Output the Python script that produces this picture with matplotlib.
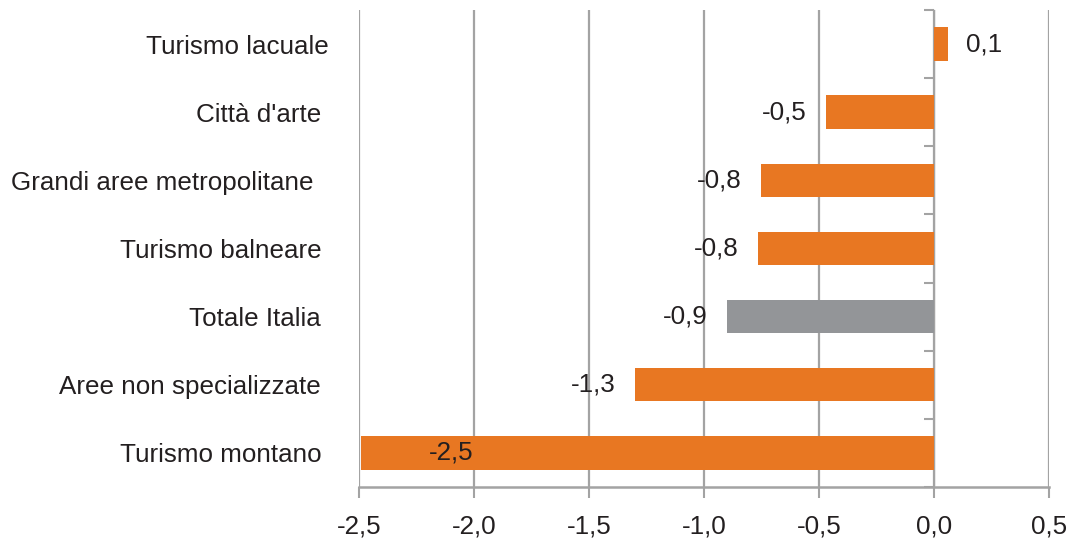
import numpy as np
import matplotlib.pyplot as plt

plt.rcParams['font.family'] = ['Liberation Sans', 'DejaVu Sans']

# categorie dal basso verso l'alto (spazi finali come nell'originale)
categorie = ["Turismo montano ", "Aree non specializzate ", "Totale Italia ",
             "Turismo balneare ", "Grandi aree metropolitane  ", "Città d'arte ",
             "Turismo lacuale"]
valori = [-2.49, -1.3, -0.9, -0.765, -0.752, -0.47, 0.06]
etichette = ["-2,5", "-1,3", "-0,9", "-0,8", "-0,8", "-0,5", "0,1"]
colori = ["#E87722", "#E87722", "#939598", "#E87722", "#E87722", "#E87722", "#E87722"]
xticks = [-2.5, -2.0, -1.5, -1.0, -0.5, 0.0, 0.5]
xlabels = ["-2,5", "-2,0", "-1,5", "-1,0", "-0,5", "0,0", "0,5"]

fig = plt.figure(figsize=(10.7, 5.48), dpi=100)
ax = fig.add_axes([0.3355, 0.1113, 0.6449, 0.8705])

grigio = "#a3a3a3"
testo = "#231f20"
fs = 18.7
y = np.arange(len(categorie))
ax.barh(y, valori, height=0.49, color=colori, zorder=3)

ax.set_xlim(-2.5, 0.5)
ax.set_ylim(-0.5, len(categorie) - 0.5)
ax.set_xticks(xticks)
ax.set_xticklabels(xlabels, fontsize=fs, color=testo)
ax.set_yticks(y)
ax.set_yticklabels(categorie, fontsize=fs, color=testo)
ax.tick_params(axis='y', length=0, pad=22)
ax.tick_params(axis='x', length=8, width=1.5, color=grigio, pad=12)
for s in ['left', 'right', 'top']:
    ax.spines[s].set_visible(False)
ax.spines['bottom'].set_color(grigio)
ax.spines['bottom'].set_linewidth(1.8)
ax.grid(axis='x', color=grigio, linewidth=1.6, zorder=0)

# asse delle categorie in x = 0
sec = ax.secondary_yaxis(2.5 / 3.0)
sec.set_yticks(np.arange(-0.5, len(categorie), 1.0))
sec.set_yticklabels([])
sec.tick_params(length=7, width=1.5, color=grigio, direction='in')
sec.spines['left'].set_color(grigio)
sec.spines['left'].set_linewidth(1.8)

for yi, v, t in zip(y, valori, etichette):
    if v > 0:
        ax.annotate(t, (v, yi), xytext=(13, 0), textcoords='offset points',
                    ha='left', va='center', fontsize=fs, color=testo)
    elif v < -2:
        ax.annotate(t, (v, yi), xytext=(65, 0), textcoords='offset points',
                    ha='center', va='center', fontsize=fs, color=testo)
    else:
        ax.annotate(t, (v, yi), xytext=(-14, 0), textcoords='offset points',
                    ha='right', va='center', fontsize=fs, color=testo)

fig.savefig("out.png", dpi=100)
